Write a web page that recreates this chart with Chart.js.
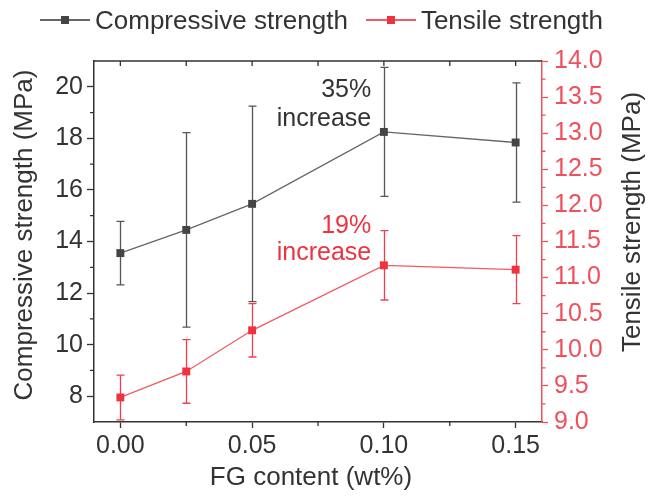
<!DOCTYPE html>
<html>
<head>
<meta charset="utf-8">
<script src="https://cdn.jsdelivr.net/npm/chart.js@4.4.1/dist/chart.umd.min.js"></script>
<style>
  html, body { margin: 0; padding: 0; background: #fff; }
  #wrap { position: relative; width: 648px; height: 502px; }
  #legend {
    position: absolute; top: 3px; left: 40px; height: 34px;
    display: flex; align-items: center; white-space: nowrap;
    font: 26px "Liberation Sans", Arial, sans-serif; color: #333;
  }
  .item { display: flex; align-items: center; }
  .glyph { position: relative; width: 50px; height: 1.5px; margin-right: 5px; }
  .glyph span { position: absolute; left: 21px; top: -3.5px; width: 8px; height: 8px; }
</style>
</head>
<body>
<div id="wrap">
  <canvas id="chart" width="648" height="502"></canvas>
  <div id="legend">
    <div class="item" style="margin-right:18px">
      <div class="glyph" style="background:#666"><span style="background:#444"></span></div>
      <div>Compressive strength</div>
    </div>
    <div class="item">
      <div class="glyph" style="background:#f25a64"><span style="background:#ee3340"></span></div>
      <div>Tensile strength</div>
    </div>
  </div>
</div>
<script>
// data
var fgContent = [0, 0.025, 0.05, 0.10, 0.15];
var compStrength = [13.55, 14.45, 15.46, 18.25, 17.84];
var compError = [1.23, 3.77, 3.79, 2.5, 2.31];
var tensStrength = [9.34, 9.70, 10.27, 11.17, 11.11];
var tensError = [0.31, 0.44, 0.37, 0.48, 0.47];

var xTicks = [0, 0.05, 0.10, 0.15];
var compTicks = [8, 10, 12, 14, 16, 18, 20];
var tensTicks = [9, 9.5, 10, 10.5, 11, 11.5, 12, 12.5, 13, 13.5, 14];

var dark = "#333";
var red = "#f0505c";
var font = '"Liberation Sans", Arial, sans-serif';
Chart.defaults.font.family = font;

function points(ys) {
  return fgContent.map(function (x, i) { return { x: x, y: ys[i] }; });
}

// error bars, minor ticks, frame top, annotations and axis titles
var extras = {
  id: "extras",
  beforeDatasetsDraw: function (chart) {
    var c = chart.ctx;
    var xs = chart.scales.x;
    chart.data.datasets.forEach(function (ds) {
      var ys = chart.scales[ds.yAxisID];
      c.save();
      c.strokeStyle = ds.errColor;
      c.lineWidth = 1.3;
      ds.data.forEach(function (p, i) {
        var px = Math.round(xs.getPixelForValue(p.x)) + 0.5;
        var top = ys.getPixelForValue(p.y + ds.errors[i]);
        var bot = ys.getPixelForValue(p.y - ds.errors[i]);
        c.beginPath();
        c.moveTo(px, top); c.lineTo(px, bot);
        c.moveTo(px - 4, top); c.lineTo(px + 4, top);
        c.moveTo(px - 4, bot); c.lineTo(px + 4, bot);
        c.stroke();
      });
      c.restore();
    });
  },
  afterDraw: function (chart) {
    var c = chart.ctx;
    var a = chart.chartArea;
    var xs = chart.scales.x, y = chart.scales.y, y2 = chart.scales.y2;
    var v, p;
    c.save();
    c.lineWidth = 1.3;
    c.strokeStyle = dark;
    c.beginPath();
    c.moveTo(a.left, a.top); c.lineTo(a.right, a.top);
    // top ticks point inward, bottom minor ticks outward
    for (v = 0; v <= 0.1501; v += 0.025) {
      p = xs.getPixelForValue(v);
      c.moveTo(p, a.top); c.lineTo(p, a.top + 5);
    }
    [0.025, 0.075, 0.125].forEach(function (m) {
      p = xs.getPixelForValue(m);
      c.moveTo(p, a.bottom); c.lineTo(p, a.bottom + 4);
    });
    for (v = 9; v <= 19; v += 2) {
      p = y.getPixelForValue(v);
      c.moveTo(a.left - 4, p); c.lineTo(a.left, p);
    }
    c.stroke();
    c.strokeStyle = red;
    c.beginPath();
    for (v = 9.25; v < 14; v += 0.5) {
      p = y2.getPixelForValue(v);
      c.moveTo(a.right, p); c.lineTo(a.right + 3.5, p);
    }
    c.stroke();

    // annotations
    c.font = "25px " + font;
    c.textAlign = "right";
    c.textBaseline = "middle";
    var ax = xs.getPixelForValue(0.0952);
    c.fillStyle = dark;
    c.fillText("35%", ax, y.getPixelForValue(19.88));
    c.fillText("increase", ax, y.getPixelForValue(18.76));
    c.fillStyle = "#ee3340";
    c.fillText("19%", ax, y2.getPixelForValue(11.71));
    c.fillText("increase", ax, y2.getPixelForValue(11.34));

    // axis titles
    c.font = "26px " + font;
    c.textAlign = "center";
    c.fillStyle = dark;
    c.fillText("FG content (wt%)", 311, 478);
    c.translate(25, 235);
    c.rotate(-Math.PI / 2);
    c.fillText("Compressive strength (MPa)", 0, 0);
    c.rotate(Math.PI / 2);
    c.translate(-25, -235);
    c.translate(633, 222);
    c.rotate(-Math.PI / 2);
    c.fillText("Tensile strength (MPa)", 0, 0);
    c.restore();
  }
};

var ctx = document.getElementById("chart").getContext("2d");
new Chart(ctx, {
  type: "line",
  data: {
    datasets: [
      {
        label: "Compressive strength",
        data: points(compStrength),
        errors: compError,
        errColor: "#555",
        yAxisID: "y",
        borderColor: "#666",
        borderWidth: 1.3,
        pointStyle: "rect",
        pointRadius: 5.6,
        pointBackgroundColor: "#444",
        pointBorderColor: "#444",
        pointBorderWidth: 0,
      },
      {
        label: "Tensile strength",
        data: points(tensStrength),
        errors: tensError,
        errColor: "#f04050",
        yAxisID: "y2",
        borderColor: "#f25a64",
        borderWidth: 1.3,
        pointStyle: "rect",
        pointRadius: 5.6,
        pointBackgroundColor: "#ee3340",
        pointBorderColor: "#ee3340",
        pointBorderWidth: 0,
      },
    ],
  },
  options: {
    responsive: false,
    animation: false,
    layout: { padding: { top: 61, left: 0, right: 0, bottom: 0 } },
    plugins: { legend: { display: false }, tooltip: { enabled: false } },
    scales: {
      x: {
        type: "linear",
        min: -0.01,
        max: 0.16,
        afterBuildTicks: function (s) { s.ticks = xTicks.map(function (v) { return { value: v }; }); },
        afterFit: function (s) { s.height = 80; },
        ticks: { callback: function (v) { return v.toFixed(2); }, color: dark, font: { size: 25 }, padding: 3, maxRotation: 0 },
        grid: { drawOnChartArea: false, tickLength: 6, tickColor: dark, tickWidth: 1.3 },
        border: { color: dark, width: 1.5 },
      },
      y: {
        position: "left",
        min: 7,
        max: 21,
        afterBuildTicks: function (s) { s.ticks = compTicks.map(function (v) { return { value: v }; }); },
        afterFit: function (s) { s.width = 94; },
        ticks: { color: dark, font: { size: 25 }, padding: 4 },
        grid: { drawOnChartArea: false, tickLength: 7, tickColor: dark, tickWidth: 1.3 },
        border: { color: dark, width: 1.5 },
      },
      y2: {
        position: "right",
        min: 9,
        max: 14,
        afterBuildTicks: function (s) { s.ticks = tensTicks.map(function (v) { return { value: v }; }); },
        afterFit: function (s) { s.width = 106; },
        ticks: { callback: function (v) { return v.toFixed(1); }, color: red, font: { size: 25 }, padding: 6 },
        grid: { drawOnChartArea: false, tickLength: 6, tickColor: red, tickWidth: 1.3 },
        border: { color: red, width: 1.5 },
      },
    },
  },
  plugins: [extras],
});
</script>
</body>
</html>
